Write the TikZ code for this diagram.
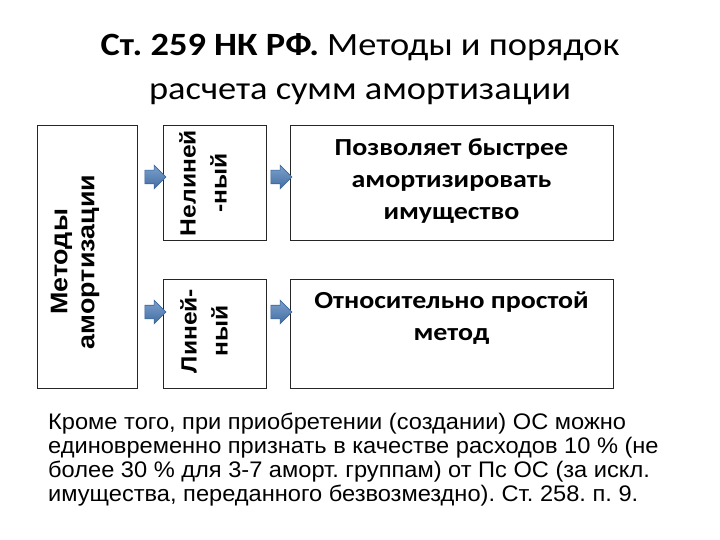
\documentclass[tikz,border=0pt]{standalone}
\usepackage{fontspec}
\setmainfont{Carlito}
\newfontfamily\titlefont{Carlito}[FakeStretch=1.12]
\newfontfamily\boxfont{Carlito}[FakeStretch=1.14]
\newfontfamily\vertfont{Liberation Sans}[FakeStretch=1.12]
\newfontfamily\notefont{Liberation Sans}[FakeStretch=1.05]
\usetikzlibrary{shapes.arrows}
\definecolor{arrblue}{HTML}{4F81BD}
\definecolor{arrdark}{HTML}{3A659C}

\begin{document}
\frenchspacing
\begin{tikzpicture}[x=1pt,y=-1pt,
  box/.style={draw=black!85,line width=1pt,inner sep=0pt},
  vtxt/.style={rotate=90,align=center,inner sep=0pt},
  rtxt/.style={align=center,inner sep=0pt,font=\boxfont\bfseries\fontsize{24.5}{32}\selectfont},
  arr/.style={single arrow,single arrow head extend=5pt,minimum height=21pt,inner sep=6.5pt,
    draw=arrdark,line width=0.6pt,top color=arrblue!75!white,bottom color=arrblue!85!black}]
\useasboundingbox[fill=white] (0,0) rectangle (720,540);
% title
\node[align=center,inner sep=0pt,font=\titlefont\fontsize{32.5}{44}\selectfont,anchor=base] (title) at (360,100)
  {\textbf{Ст. 259 НК РФ.} Методы и порядок\\расчета сумм амортизации};
% boxes
\node[box,minimum width=100pt,minimum height=262pt] (meth) at (87,257) {};
\node[box,minimum width=103pt,minimum height=114pt] (nonl) at (214.5,183) {};
\node[box,minimum width=103pt,minimum height=109pt] (lin) at (214.5,333.5) {};
\node[box,minimum width=323pt,minimum height=114pt] (fast) at (451.5,183) {};
\node[box,minimum width=323pt,minimum height=109pt] (simple) at (451.5,333.5) {};
% box texts
\node[vtxt,font=\vertfont\bfseries\fontsize{24}{27}\selectfont] (methtxt) at (75,262) {Методы\\амортизации};
\node[vtxt,font=\vertfont\bfseries\fontsize{22}{31}\selectfont] (nonltxt) at (203,183) {Нелиней\\-ный};
\node[vtxt,font=\vertfont\bfseries\fontsize{22}{31}\selectfont] (lintxt) at (204,331) {Линей-\\ный};
\node[rtxt,anchor=base] (fasttxt) at (451.5,220) {Позволяет быстрее\\амортизировать\\имущество};
\node[rtxt,anchor=base] (simpletxt) at (451.5,340) {Относительно простой\\метод};
% arrows
\node[arr] (a1) at (152,177) {};
\node[arr] (a2) at (152,312) {};
\node[arr] (a3) at (278,177) {};
\node[arr] (a4) at (278,312) {};
% note
\node[align=left,inner sep=0pt,anchor=base west,font=\notefont\fontsize{22.5}{24}\selectfont] (note) at (48,501)
  {Кроме того, при приобретении (создании) ОС можно\\
   единовременно признать в качестве расходов 10 \% (не\\
   более 30 \% для 3-7 аморт. группам) от Пс ОС (за искл.\\
   имущества, переданного безвозмездно). Ст. 258. п. 9.};
\end{tikzpicture}
\end{document}
